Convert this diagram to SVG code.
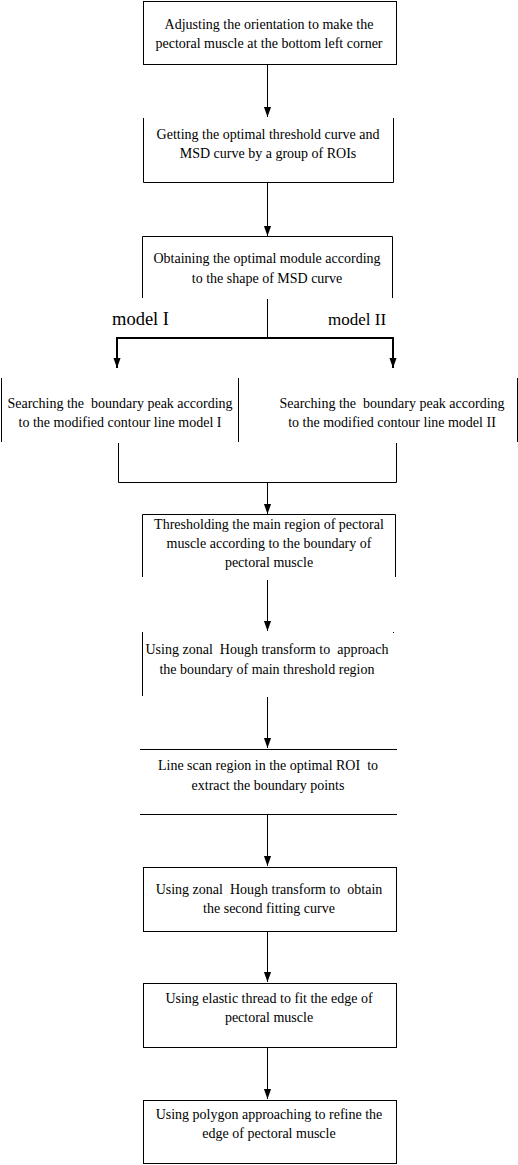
<svg xmlns="http://www.w3.org/2000/svg" width="518" height="1165" viewBox="0 0 518 1165">
<style>
.b{fill:none;stroke:#000;stroke-width:1}
.t{font-family:"Liberation Serif","Times New Roman",serif;font-size:14px;fill:#000;text-anchor:middle}
.m{font-family:"Liberation Serif","Times New Roman",serif;font-size:17px;fill:#000}
.c{fill:none;stroke:#000;stroke-width:1}
.c2{fill:none;stroke:#000;stroke-width:2}
</style>
<defs>
<marker id="ah" markerUnits="userSpaceOnUse" markerWidth="10" markerHeight="14" refX="14" refY="5" orient="auto" viewBox="0 0 14 10">
<path d="M0,0 L14,5 L0,10 Z" fill="#000"/>
</marker>
</defs>
<rect width="518" height="1165" fill="#fff"/>
<g id="n1">
<rect class="b" x="143.5" y="1.5" width="253" height="63"/>
<text class="t" x="269" y="29">Adjusting the orientation to make the</text>
<text class="t" x="269" y="48">pectoral muscle at the bottom left corner</text>
</g>
<g id="n2">
<path class="b" d="M143.5,118 V182.5 H393.5 V118"/>
<text class="t" x="268" y="139">Getting the optimal threshold curve and</text>
<text class="t" x="268" y="158">MSD curve by a group of ROIs</text>
</g>
<g id="n3">
<path class="b" d="M142.5,298 V236.5 H392.5 V298"/>
<text class="t" x="267" y="263">Obtaining the optimal module according</text>
<text class="t" x="267" y="283">to the shape of MSD curve</text>
</g>
<g id="l1"><text class="m" x="112" y="325" style="font-size:18.5px">model I</text></g>
<g id="l2"><text class="m" x="328" y="325">model II</text></g>
<g id="n4">
<path class="b" d="M1.5,378 V442 M238.5,378 V442"/>
<text class="t" x="120" y="408" xml:space="preserve">Searching the  boundary peak according</text>
<text class="t" x="120" y="427">to the modified contour line model I</text>
</g>
<g id="n5">
<path class="b" d="M517.5,378 V442"/>
<text class="t" x="392" y="408" xml:space="preserve">Searching the  boundary peak according</text>
<text class="t" x="392" y="427">to the modified contour line model II</text>
</g>
<g id="n6">
<path class="b" d="M142.5,577 V514.5 H395.5 V577"/>
<text class="t" x="269" y="529">Thresholding the main region of pectoral</text>
<text class="t" x="269" y="548">muscle according to the boundary of</text>
<text class="t" x="269" y="567">pectoral muscle</text>
</g>
<g id="n7">
<path class="b" d="M142.5,632 V696"/>
<rect x="393" y="632" width="1" height="1" fill="#000"/>
<text class="t" x="267" y="654" xml:space="preserve">Using zonal  Hough transform to  approach</text>
<text class="t" x="267" y="674">the boundary of main threshold region</text>
</g>
<g id="n8">
<path class="b" d="M140,749.5 H397 M140,814.5 H397"/>
<text class="t" x="268" y="770" xml:space="preserve">Line scan region in the optimal ROI  to</text>
<text class="t" x="268" y="790">extract the boundary points</text>
</g>
<g id="n9">
<rect class="b" x="143.5" y="867.5" width="253" height="64"/>
<text class="t" x="269" y="894" xml:space="preserve">Using zonal  Hough transform to  obtain</text>
<text class="t" x="269" y="913">the second fitting curve</text>
</g>
<g id="n10">
<rect class="b" x="143.5" y="983.5" width="253" height="64"/>
<text class="t" x="269" y="1003">Using elastic thread to fit the edge of</text>
<text class="t" x="269" y="1022">pectoral muscle</text>
</g>
<g id="n11">
<rect class="b" x="143.5" y="1100.5" width="253" height="63"/>
<text class="t" x="269" y="1119">Using polygon approaching to refine the</text>
<text class="t" x="269" y="1138">edge of pectoral muscle</text>
</g>
<g id="connectors">
<path class="c" d="M267.5,64 V117" marker-end="url(#ah)"/>
<path class="c" d="M267.5,182 V236" marker-end="url(#ah)"/>
<path class="c" d="M267.5,299 V338"/>
<path class="c2" d="M117,338 H393"/>
<path class="c2" d="M117,337 V368" marker-end="url(#ah)"/>
<path class="c2" d="M393,337 V368" marker-end="url(#ah)"/>
<path class="c" d="M118.5,443 V482.5 H396.5 V443"/>
<path class="c" d="M267.5,482 V514" marker-end="url(#ah)"/>
<path class="c" d="M267.5,580 V631" marker-end="url(#ah)"/>
<path class="c" d="M267.5,697 V748" marker-end="url(#ah)"/>
<path class="c" d="M267.5,815 V866" marker-end="url(#ah)"/>
<path class="c" d="M267.5,932 V982" marker-end="url(#ah)"/>
<path class="c" d="M267.5,1048 V1099" marker-end="url(#ah)"/>
</g>
</svg>
